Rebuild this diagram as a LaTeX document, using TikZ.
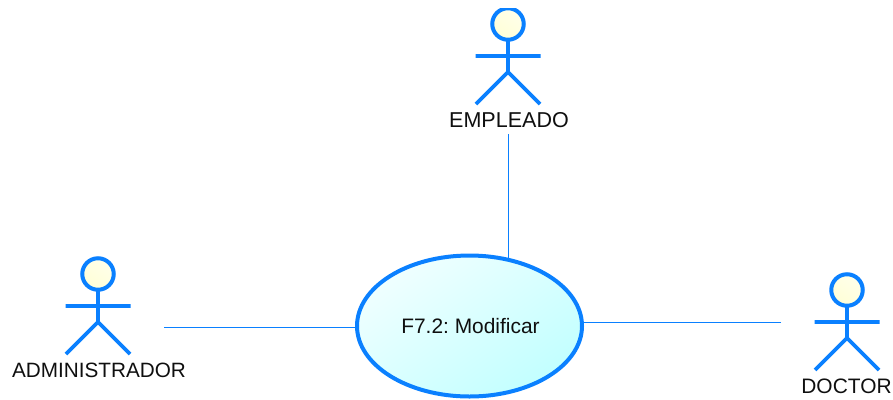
\documentclass[tikz,border=0pt]{standalone}
\usepackage{fontspec}
\setmainfont{Liberation Sans}
\frenchspacing
\usetikzlibrary{shapes.geometric,backgrounds}
\definecolor{umlblue}{RGB}{10,128,255}
\definecolor{umltext}{RGB}{15,15,15}
\tikzset{
  x=1bp,y=-1bp,
  limb/.style={draw=umlblue,line width=3.6bp},
  actorhead/.style={circle,draw=umlblue,line width=4bp,minimum size=31.5bp,inner sep=0pt,
    shading=axis,top color=white!92!yellow,bottom color=yellow!16!white,shading angle=-35},
  actorname/.style={text=umltext,font=\fontsize{21}{23}\selectfont,inner sep=0pt},
  usecase/.style={ellipse,draw=umlblue,line width=4bp,minimum width=225bp,minimum height=141bp,inner sep=0pt,
    shading=axis,top color=cyan!6!white,bottom color=cyan!24!white,shading angle=35,
    text=umltext,font=\fontsize{21}{23}\selectfont},
  assoc/.style={draw=umlblue,line width=1.1bp},
  pics/actor/.style={code={
    \draw[limb] (0,16) -- (0,48) (-32.5,32) -- (32.5,32) (-32,80) -- (0,48) -- (32,80);
  }}
}
\begin{document}
\begin{tikzpicture}
\useasboundingbox (0,0) rectangle (893,399);
% use case
\node[usecase] (uc) at (469.5,326) {\hspace{2bp}\raisebox{-1.5bp}{F7.2: Modificar}};
% actors
\begin{scope}
  \clip (0,8) rectangle (893,399);
  \pic at (508,24) {actor};
  \node[actorhead] (empleadohead) at (508,24) {};
\end{scope}
\pic at (98,274) {actor};
\node[actorhead] (adminhead) at (98,274) {};
\pic at (847,290) {actor};
\node[actorhead] (doctorhead) at (847,290) {};
% labels
\node[actorname,font=\fontsize{21.6}{23}\selectfont] (empleado) at (509,120.5) {EMPLEADO};
\node[actorname,font=\fontsize{20.8}{23}\selectfont] (admin) at (99,370.5) {ADMINISTRADOR};
\node[actorname] (doctor) at (846.5,386.5) {DOCTOR};
% connector free ends
\coordinate (empleadoend) at (508.5,134);
\coordinate (adminend) at (164,327.5);
\coordinate (doctorend) at (781,322.5);
\begin{scope}[on background layer]
  \draw[assoc] (empleadoend) -- (empleadoend |- uc.center);
  \draw[assoc] (adminend) -- (adminend -| uc.center);
  \draw[assoc] (doctorend) -- (doctorend -| uc.center);
\end{scope}
\end{tikzpicture}
\end{document}
